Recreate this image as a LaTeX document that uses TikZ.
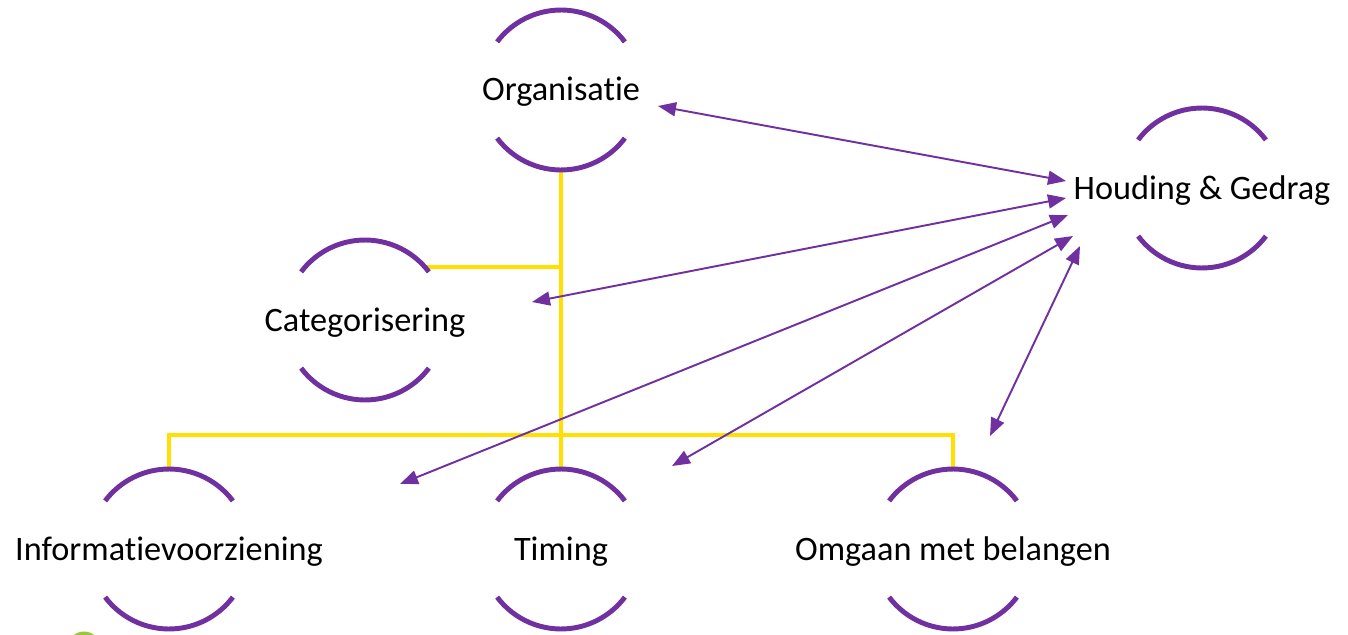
\documentclass[tikz,border=0pt]{standalone}
\usepackage{fontspec}
\setmainfont{Carlito}[Ligatures=NoCommon]
\usepackage{tikz}
\usetikzlibrary{arrows.meta,calc}
\definecolor{ringpurple}{HTML}{7030A0}
\definecolor{treeyellow}{HTML}{FFE000}
\definecolor{logogreen}{HTML}{9BC53D}
\tikzstyle{ring} = [draw=ringpurple, line width=2.8pt]
\tikzstyle{tree} = [draw=treeyellow, line width=2.8pt]
\tikzstyle{arrow} = [draw=ringpurple, line width=1.1pt, {Triangle[length=0.36cm,width=0.28cm]}-{Triangle[length=0.36cm,width=0.28cm]}]
\tikzstyle{topic} = [font=\fontsize{19.5}{23}\selectfont, text=black, anchor=base, inner sep=0pt]
\newcommand{\ringat}[1]{%
  \draw[ring] (#1) ++(37:1.6cm) arc[start angle=37, end angle=143, radius=1.6cm];
  \draw[ring] (#1) ++(217:1.6cm) arc[start angle=217, end angle=323, radius=1.6cm];}

\begin{document}
\begin{tikzpicture}[x=0.02cm, y=-0.02cm]
        \useasboundingbox (0,0) rectangle (1348,635);
        % centres of the circles
        \coordinate (org) at (561,90);
        \coordinate (hg) at (1202,188);
        \coordinate (cat) at (365,320);
        \coordinate (info) at (169,549);
        \coordinate (tim) at (561,549);
        \coordinate (omg) at (953,549);
        % tree
        \coordinate (org-s) at (561,170);
        \coordinate (tim-n) at (561,469);
        \coordinate (cat-ne) at (427,267);
        \coordinate (cat-j) at (561,267);
        \coordinate (info-n) at (169,469);
        \coordinate (omg-n) at (953,469);
        \draw[tree] (org-s) -- (tim-n);
        \draw[tree] (cat-ne) -- (cat-j);
        \draw[tree] (info-n) |- (omg-n |- 0,435) -- (omg-n);
        % rings
        \ringat{org}
        \ringat{hg}
        \ringat{cat}
        \ringat{info}
        \ringat{tim}
        \ringat{omg}
        \fill[logogreen] (84,648) circle[radius=0.33cm];
        % texts
        \node[topic] (org-t) at ($(org)+(0,11)$) {Organisatie};
        \node[topic] (hg-t) at ($(hg)+(0,11)$) {Houding \& Gedrag};
        \node[topic] (cat-t) at ($(cat)+(0,11)$) {Categorisering};
        \node[topic] (info-t) at ($(info)+(0,11)$) {Informatievoorziening};
        \node[topic] (tim-t) at ($(tim)+(0,11)$) {Timing};
        \node[topic] (omg-t) at ($(omg)+(0,11)$) {Omgaan met belangen};
        % arrows
        \coordinate (org-e) at (658,106);
        \coordinate (cat-e) at (532,302);
        \coordinate (info-e) at (400,484);
        \coordinate (tim-e) at (672,466);
        \coordinate (omg-e) at (990,436);
        \coordinate (hg-a) at (1066,181);
        \coordinate (hg-b) at (1066,198);
        \coordinate (hg-c) at (1068,215);
        \coordinate (hg-d) at (1073,236);
        \coordinate (hg-e) at (1080,246);
        \draw[arrow] (org-e) -- (hg-a);
        \draw[arrow] (cat-e) -- (hg-b);
        \draw[arrow] (info-e) -- (hg-c);
        \draw[arrow] (tim-e) -- (hg-d);
        \draw[arrow] (omg-e) -- (hg-e);
    \end{tikzpicture}
\end{document}
